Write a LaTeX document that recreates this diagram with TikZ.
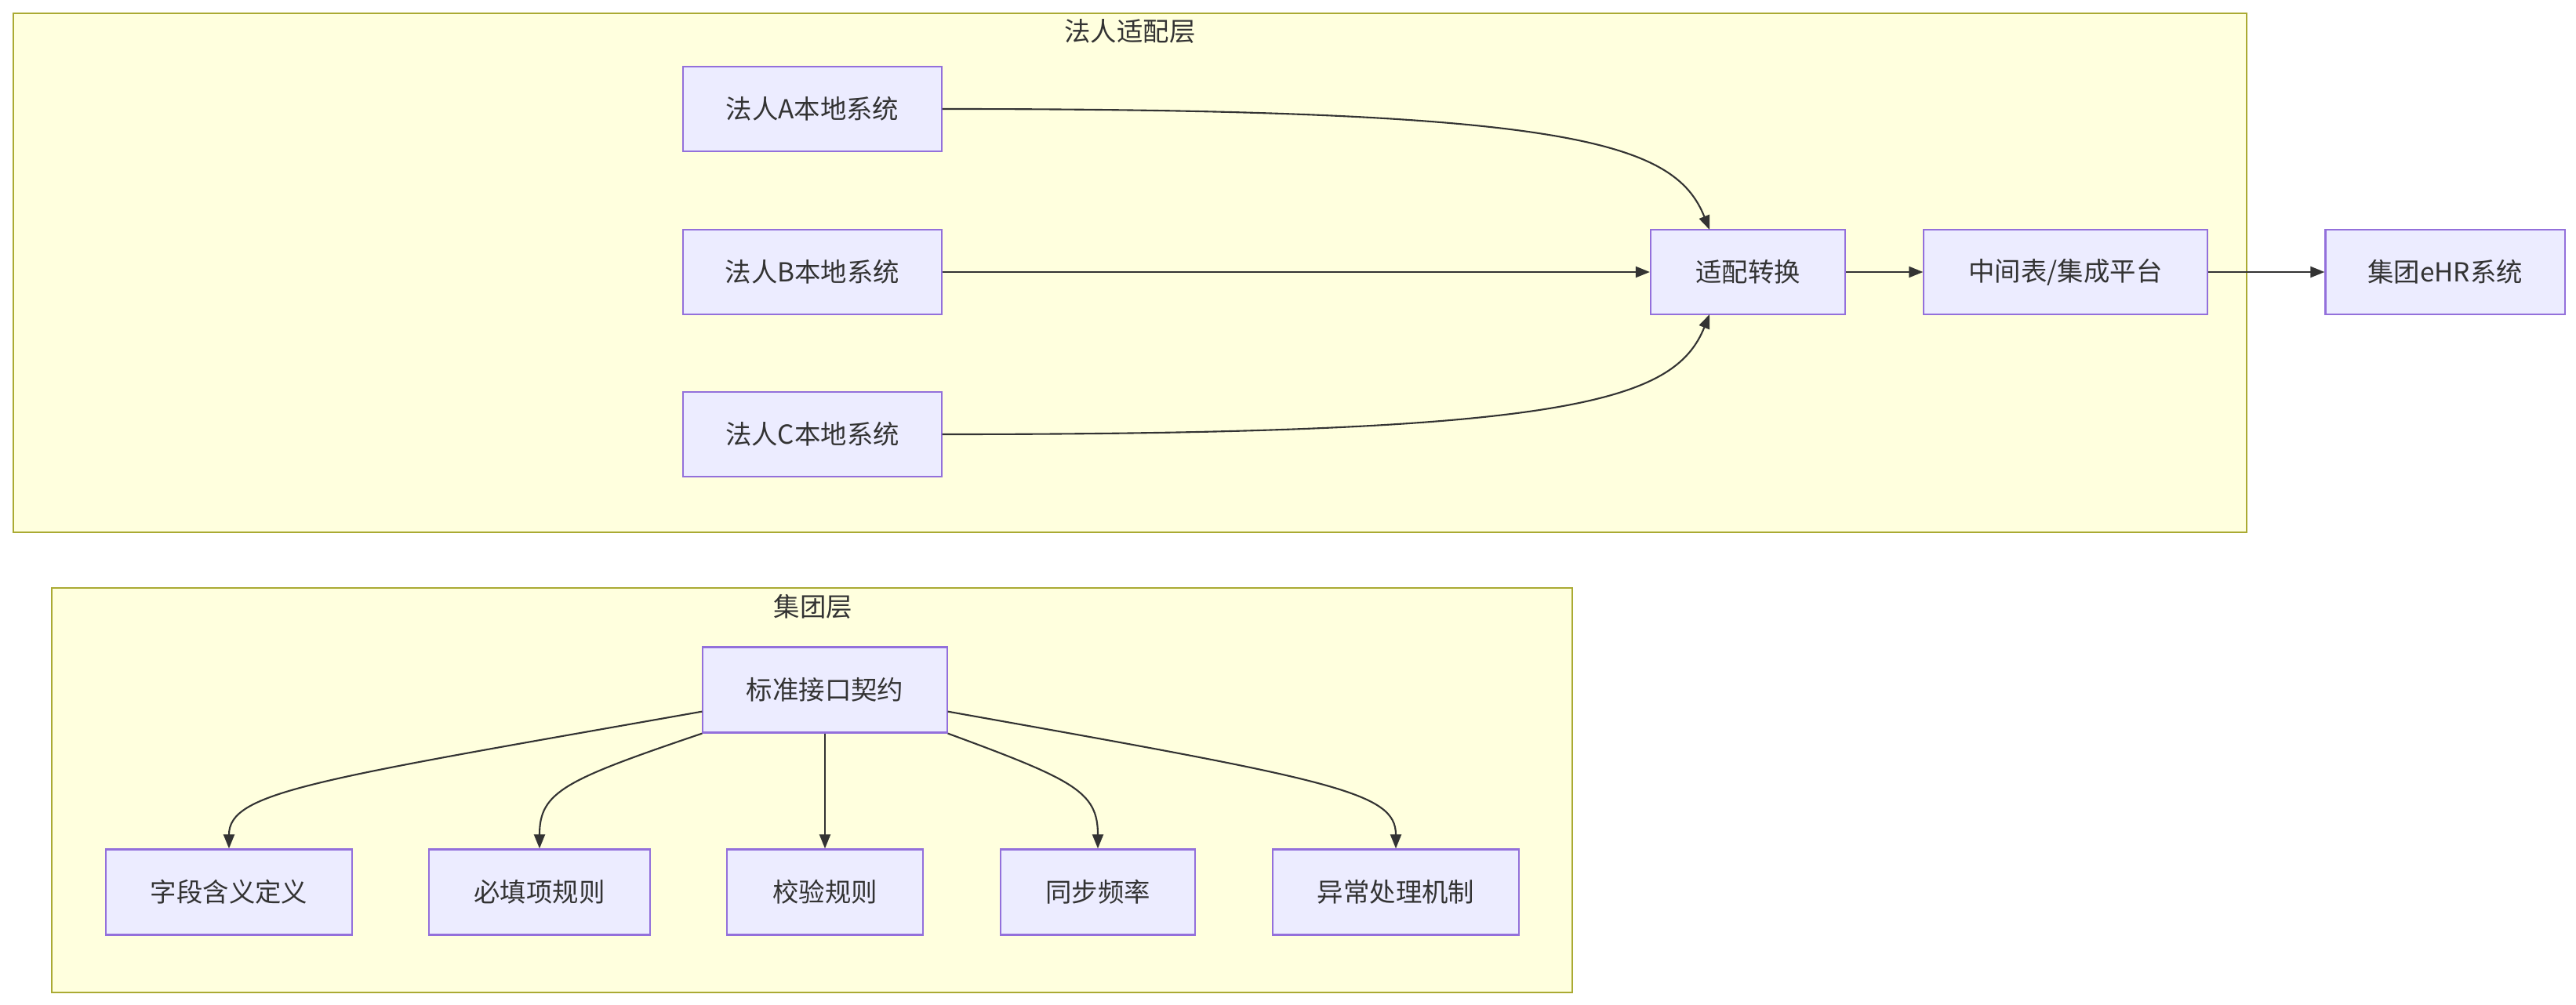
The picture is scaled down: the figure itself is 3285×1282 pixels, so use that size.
\documentclass[tikz,border=0pt]{standalone}
\usepackage{xcolor}
\usepackage{fontspec}
\setmainfont{Noto Sans CJK SC}
\usepackage{tikz}
\usetikzlibrary{arrows.meta,positioning}

\definecolor{boxfill}{HTML}{ECECFF}
\definecolor{boxline}{HTML}{9370DB}
\definecolor{layerfill}{HTML}{FFFFDE}
\definecolor{layerline}{HTML}{AAAA33}
\definecolor{ink}{HTML}{333333}

\begin{document}
\begin{tikzpicture}[
    x=0.01cm, y=-0.01cm,
    box/.style={rectangle, draw=boxline, fill=boxfill, line width=0.6pt, minimum height=1.08cm, text=ink, font=\fontsize{9.5pt}{11pt}\selectfont},
    layer/.style={draw=layerline, fill=layerfill, line width=0.6pt},
    title/.style={text=ink, font=\fontsize{9.5pt}{11pt}\selectfont},
    conn/.style={draw=ink, line width=0.6pt, -{Triangle[length=0.18cm, width=0.14cm]}}
    ]
    \fill[white] (0,0) rectangle (3285,1282);
    \useasboundingbox (0,0) rectangle (3285,1282);

    % layers
    \draw[layer] (17,17) rectangle (2865,679);
    \node[title] (adapttitle) at (1441,40) {法人适配层};
    \draw[layer] (66,750) rectangle (2005,1266);
    \node[title] (grouptitle) at (1037,774) {集团层};

    % legal entity systems
    \node[box, minimum width=3.29cm] (sysa) at (1036,139) {法人A本地系统};
    \node[box, minimum width=3.29cm] (sysb) at (1036,347) {法人B本地系统};
    \node[box, minimum width=3.29cm] (sysc) at (1036,554) {法人C本地系统};
    \node[box, minimum width=2.48cm] (adapt) at (2229,347) {适配转换};
    \node[box, minimum width=3.61cm] (mid) at (2634,347) {中间表/集成平台};
    \node[box, minimum width=3.05cm] (ehr) at (3118,347) {集团eHR系统};

    \draw[conn] (sysa.east) .. controls (2000,139) and (2135,180) .. (2180,293);
    \draw[conn] (sysb.east) -- (adapt.west);
    \draw[conn] (sysc.east) .. controls (2000,554) and (2135,513) .. (2180,401);
    \draw[conn] (adapt.east) -- (mid.west);
    \draw[conn] (mid.east) -- (ehr.west);

    % group contract
    \node[box, minimum width=3.11cm, minimum height=1.09cm] (contract) at (1052,880) {标准接口契约};
    \node[box, minimum width=3.13cm, minimum height=1.09cm] (fields) at (292,1138) {字段含义定义};
    \node[box, minimum width=2.81cm, minimum height=1.09cm] (required) at (688,1138) {必填项规则};
    \node[box, minimum width=2.49cm, minimum height=1.09cm] (check) at (1052,1138) {校验规则};
    \node[box, minimum width=2.48cm, minimum height=1.09cm] (freq) at (1400,1138) {同步频率};
    \node[box, minimum width=3.13cm, minimum height=1.09cm] (error) at (1780,1138) {异常处理机制};

    \draw[conn] (contract.190) .. controls (400,995) and (292,1010) .. (fields.north);
    \draw[conn] (contract.south west) .. controls (720,995) and (688,1010) .. (required.north);
    \draw[conn] (contract.south) -- (check.north);
    \draw[conn] (contract.south east) .. controls (1370,995) and (1400,1010) .. (freq.north);
    \draw[conn] (contract.-10) .. controls (1700,995) and (1780,1010) .. (error.north);
\end{tikzpicture}
\end{document}
